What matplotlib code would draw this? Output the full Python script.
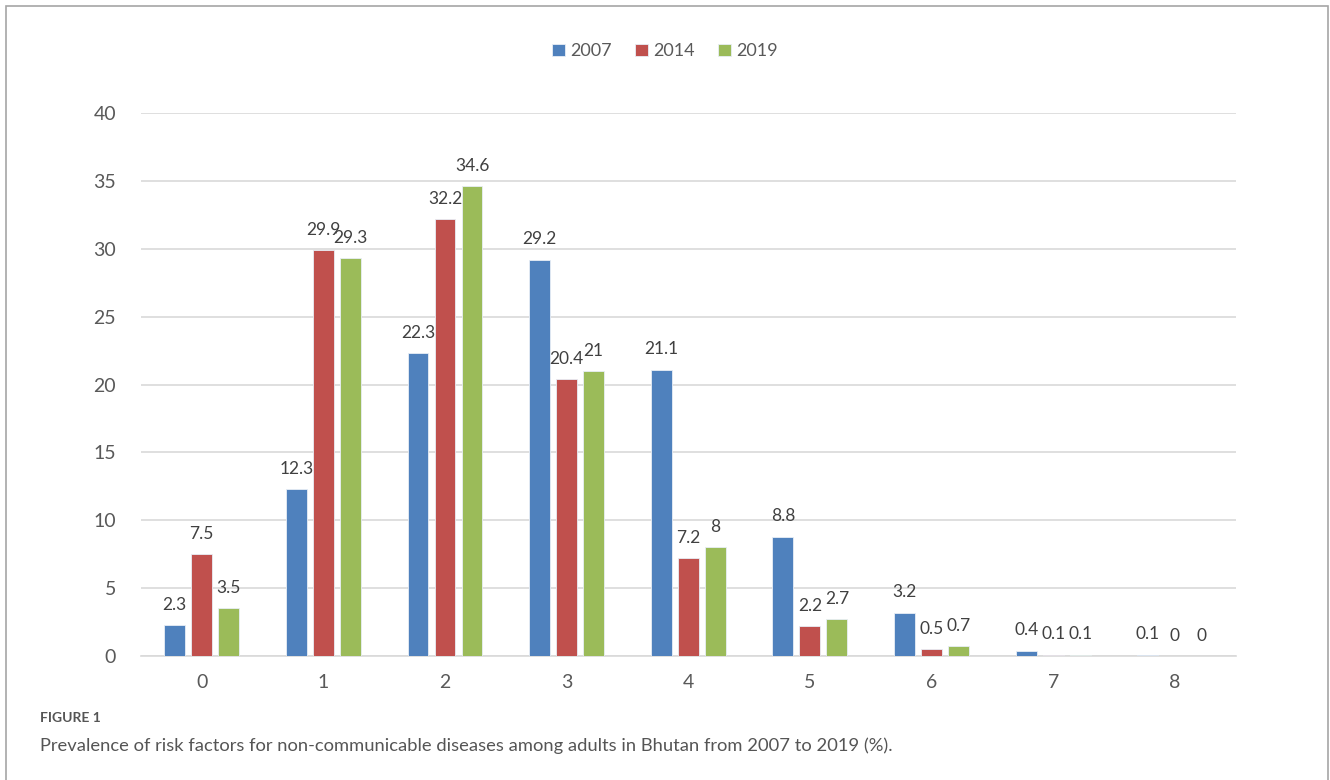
import numpy as np
import matplotlib
matplotlib.use('Agg')
from matplotlib import pyplot as plt
from matplotlib.patches import Rectangle

categories = ['0', '1', '2', '3', '4', '5', '6', '7', '8']
years = ['2007', '2014', '2019']
v2007 = [2.3, 12.3, 22.3, 29.2, 21.1, 8.8, 3.2, 0.4, 0.1]
v2014 = [7.5, 29.9, 32.2, 20.4, 7.2, 2.2, 0.5, 0.1, 0]
v2019 = [3.5, 29.3, 34.6, 21, 8, 2.7, 0.7, 0.1, 0]
colors = ['#4F81BD', '#C0504D', '#9BBB59']

plt.rcParams['font.family'] = ['Lato', 'DejaVu Sans']

fig = plt.figure(figsize=(13.3, 7.8), dpi=100)
ax = fig.add_axes([0.106, 0.159, 0.823, 0.696])

x = np.arange(len(categories))
width = 0.172
step = 0.222
for i, (vals, c, yr) in enumerate(zip([v2007, v2014, v2019], colors, years)):
    pos = x + (i - 1) * step
    ax.bar(pos, vals, width=width, color=c, label=yr, zorder=3,
           edgecolor='#e8eef6', linewidth=0.6)
    for p, v in zip(pos, vals):
        ax.text(p, v + 0.9, f'{v:g}', ha='center', va='bottom',
                fontsize=12.5, color='#404040')

ax.set_xlim(-0.5, 8.5)
ax.set_ylim(0, 40)
ax.set_yticks(range(0, 41, 5))
ax.set_xticks(x)
ax.set_xticklabels(categories)
ax.tick_params(axis='both', length=0, labelsize=14, colors='#595959')
ax.tick_params(axis='y', pad=18)
ax.tick_params(axis='x', pad=13)
ax.grid(axis='y', color='#d9d9d9', linewidth=1.2, zorder=0)
for s in ['top', 'right', 'left']:
    ax.spines[s].set_visible(False)
ax.spines['bottom'].set_color('#d9d9d9')
ax.spines['bottom'].set_linewidth(1.2)

fig.legend(loc='center', bbox_to_anchor=(0.5, 0.934), ncol=3, frameon=False,
           fontsize=13, handlelength=0.7, handleheight=0.7,
           handletextpad=0.3, columnspacing=1.3, labelcolor='#595959')

# outer frame
fig.patches.append(Rectangle((6 / 1330, -0.1), 1322 / 1330, 1.1 - 6 / 780,
                             transform=fig.transFigure, fill=False,
                             edgecolor='#a6a6a6', linewidth=1.2))

fig.text(40 / 1330, 1 - 718 / 780, 'FIGURE 1', fontsize=10, color='#555555',
         va='center', ha='left', fontweight='bold')
fig.text(40 / 1330, 1 - 746 / 780,
         'Prevalence of risk factors for non-communicable diseases among adults in Bhutan from 2007 to 2019 (%).',
         fontsize=13.2, color='#555555', va='center', ha='left')

plt.savefig('out.png')
